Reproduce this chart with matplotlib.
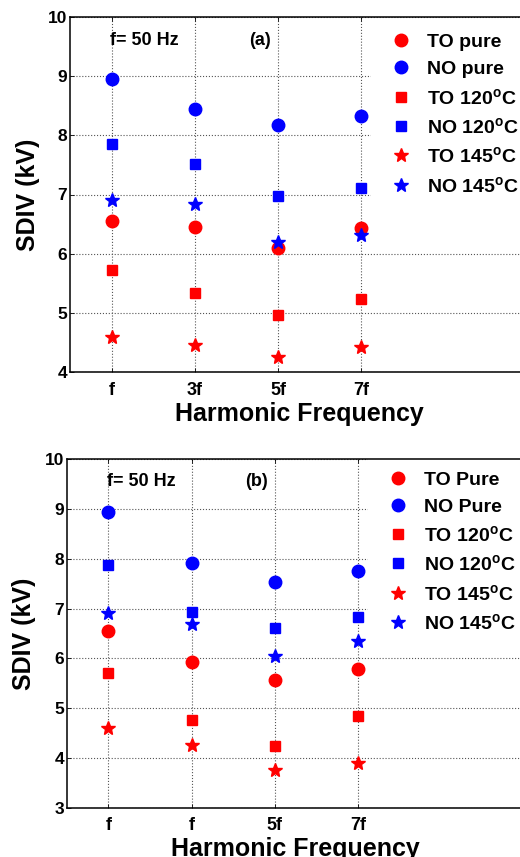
import matplotlib
matplotlib.use("Agg")
import matplotlib.pyplot as plt

plt.rcParams['font.family'] = ['Liberation Sans', 'DejaVu Sans']
plt.rcParams['font.weight'] = 'bold'
plt.rcParams['mathtext.fontset'] = 'custom'
plt.rcParams['mathtext.rm'] = 'Liberation Sans:bold'
plt.rcParams['mathtext.bf'] = 'Liberation Sans:bold'
plt.rcParams['mathtext.default'] = 'bf'

# ---------------- data ----------------
x_pos = [1, 2, 3, 4]
ticks_a = ['f', '3f', '5f', '7f']
ticks_b = ['f', 'f', '5f', '7f']

# panel (a)
a_to_pure = [6.56, 6.45, 6.10, 6.43]
a_no_pure = [8.96, 8.45, 8.18, 8.32]
a_to_120 = [5.72, 5.33, 4.97, 5.24]
a_no_120 = [7.86, 7.52, 6.97, 7.11]
a_to_145 = [4.60, 4.45, 4.26, 4.42]
a_no_145 = [6.90, 6.84, 6.19, 6.31]

# panel (b)
b_to_pure = [6.56, 5.92, 5.56, 5.78]
b_no_pure = [8.95, 7.91, 7.53, 7.76]
b_to_120 = [5.71, 4.76, 4.23, 4.85]
b_no_120 = [7.87, 6.94, 6.62, 6.83]
b_to_145 = [4.61, 4.25, 3.76, 3.89]
b_no_145 = [6.91, 6.70, 6.05, 6.35]

labels_a = ['TO pure', 'NO pure', r'TO 120$^\mathbf{o}$C', r'NO 120$^\mathbf{o}$C',
            r'TO 145$^\mathbf{o}$C', r'NO 145$^\mathbf{o}$C']
labels_b = ['TO Pure', 'NO Pure', r'TO 120$^\mathbf{o}$C', r'NO 120$^\mathbf{o}$C',
            r'TO 145$^\mathbf{o}$C', r'NO 145$^\mathbf{o}$C']

styles = [('o', 'red', 9), ('o', 'blue', 9), ('s', 'red', 7.3), ('s', 'blue', 7.3),
          ('*', 'red', 10.5), ('*', 'blue', 10.5)]

W, H = 520, 857
fig = plt.figure(figsize=(W / 100, H / 100), dpi=100)


def panel(rect, series, labels, ticks, ylim, tag, leg_top_pad):
    ax = fig.add_axes(rect)
    for vals, lab, (m, c, ms) in zip(series, labels, styles):
        ax.plot(x_pos, vals, linestyle='none', marker=m, color=c, markersize=ms,
                label=lab, zorder=3)
    ax.set_xlim(0.5, 6.0)
    ax.set_ylim(*ylim)
    ax.set_xticks(x_pos)
    ax.set_xticklabels(ticks)
    ax.set_yticks(range(ylim[0], ylim[1] + 1))
    ax.grid(True, linestyle=':', color='#555555', linewidth=0.8, zorder=0)
    ax.set_axisbelow(True)
    ax.tick_params(axis='both', direction='in', length=3, width=0.6,
                   top=True, right=True, labelsize=12.5)
    ax.tick_params(axis='x', pad=7, labelsize=13)
    ax.tick_params(axis='y', pad=2)
    for s in ax.spines.values():
        s.set_linewidth(1.1)
    ax.set_ylabel('SDIV (kV)', fontsize=18, fontweight='bold', labelpad=6)
    ax.set_xlabel('Harmonic Frequency', fontsize=18, fontweight='bold', labelpad=2)
    ax.text(0.087, 0.935, 'f= 50 Hz', transform=ax.transAxes, fontsize=13,
            fontweight='bold', va='center', ha='left')
    ax.text(0.415, 0.935, tag, transform=ax.transAxes, fontsize=13,
            fontweight='bold', va='center', ha='center')
    leg = ax.legend(loc='upper left', bbox_to_anchor=(0.657, 1.0 - leg_top_pad),
                    bbox_transform=ax.transAxes, borderaxespad=0.0,
                    frameon=True, fancybox=False, framealpha=1.0,
                    facecolor='white', edgecolor='white', fontsize=14,
                    numpoints=1, handlelength=1.9, handletextpad=0.4,
                    borderpad=0.6, labelspacing=0.48)
    leg.get_frame().set_linewidth(0)
    leg.set_zorder(2)
    return ax


ax_w = 458 / W
panel([70 / W, 1 - 372 / H, ax_w, (372 - 17) / H],
      [a_to_pure, a_no_pure, a_to_120, a_no_120, a_to_145, a_no_145],
      labels_a, ticks_a, (4, 10), '(a)', 0.014)
panel([66.7 / W, 1 - 807.7 / H, ax_w, (807.7 - 459.3) / H],
      [b_to_pure, b_no_pure, b_to_120, b_no_120, b_to_145, b_no_145],
      labels_b, ticks_b, (3, 10), '(b)', 0.0)

fig.savefig('out.png', dpi=100)
